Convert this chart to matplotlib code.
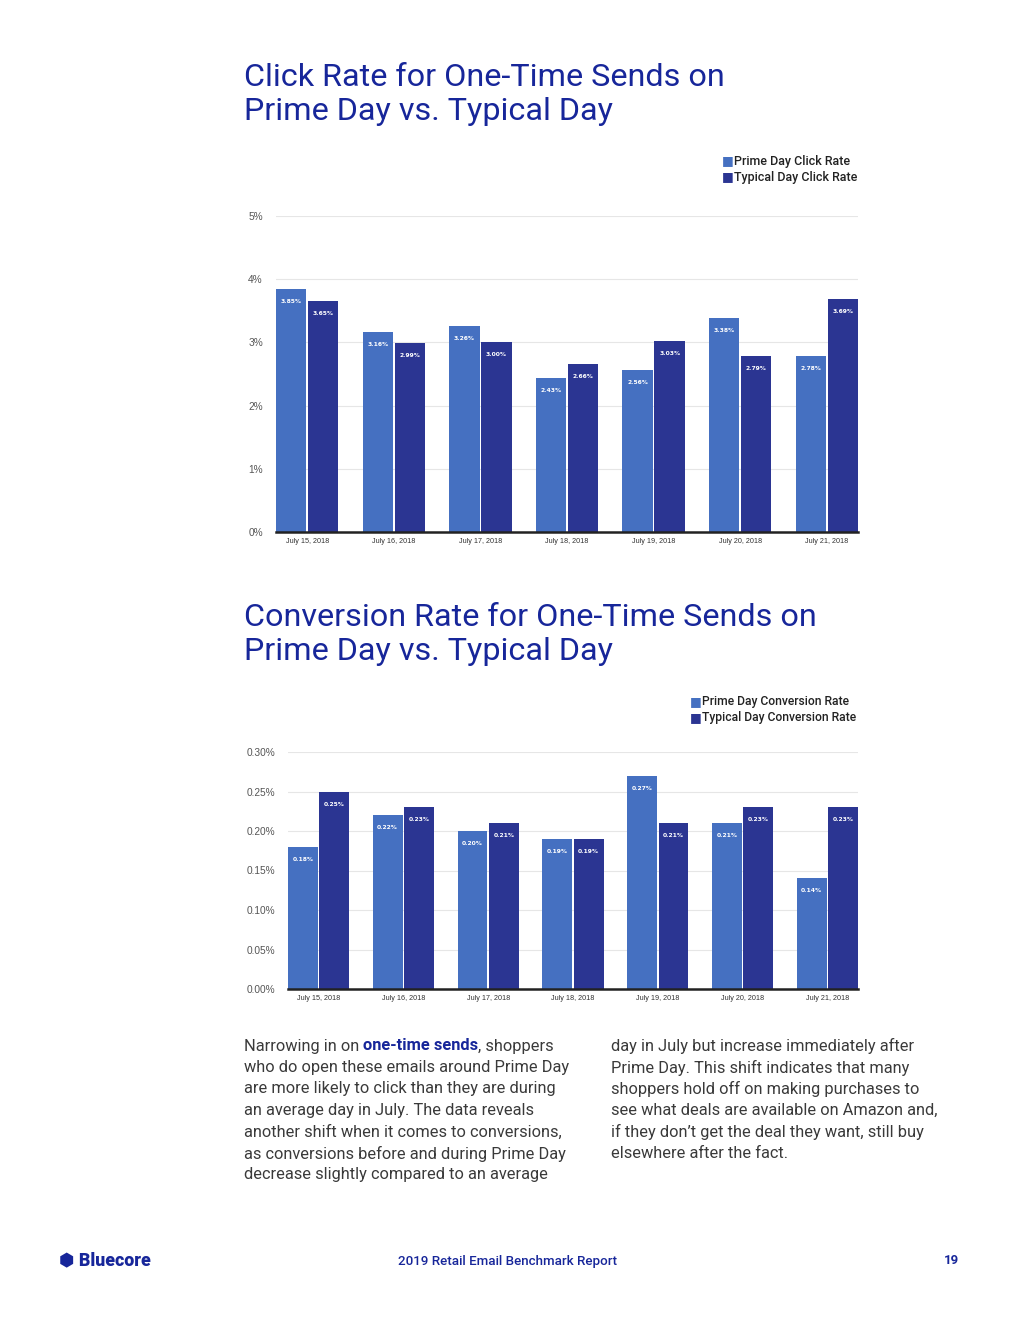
import matplotlib
matplotlib.use("Agg")
import matplotlib.pyplot as plt
import numpy as np

# data
dates = ["July 15, 2018", "July 16, 2018", "July 17, 2018", "July 18, 2018",
         "July 19, 2018", "July 20, 2018", "July 21, 2018"]
click_prime = [3.85, 3.16, 3.26, 2.43, 2.56, 3.38, 2.78]
click_typical = [3.65, 2.99, 3.00, 2.66, 3.03, 2.79, 3.69]
conv_prime = [0.18, 0.22, 0.20, 0.19, 0.27, 0.21, 0.14]
conv_typical = [0.25, 0.23, 0.21, 0.19, 0.21, 0.23, 0.23]
click_ticks = [0, 1, 2, 3, 4, 5]
conv_ticks = [0.00, 0.05, 0.10, 0.15, 0.20, 0.25, 0.30]

C_PRIME = "#4570c1"
C_TYP = "#2b3592"
C_TITLE = "#17269a"
C_TEXT = "#3a3a3a"
TFONT = ["Roboto", "DejaVu Sans"]

W, H = 1020, 1320
fig = plt.figure(figsize=(W / 100, H / 100), dpi=100)


def px(x, y):
    return x / W, 1 - y / H


def bar_chart(rect, prime, typical, ticks, fmt, lblfmt, ymax, tickpad, xfs):
    ax = fig.add_axes(rect)
    x = np.arange(len(prime))
    bw = 0.35
    b1 = ax.bar(x - bw / 2 - 0.01, prime, bw, color=C_PRIME, zorder=3)
    b2 = ax.bar(x + bw / 2 + 0.01, typical, bw, color=C_TYP, zorder=3)
    for bars, vals in ((b1, prime), (b2, typical)):
        for b, v in zip(bars, vals):
            ax.annotate(lblfmt.format(v), (b.get_x() + b.get_width() / 2, v),
                        xytext=(0, -9), textcoords="offset points",
                        ha="center", va="center", color="white",
                        fontsize=4.3, fontweight="bold", family="DejaVu Sans", zorder=4)
    ax.set_xlim(-0.36, len(prime) - 1 + 0.36)
    ax.set_ylim(0, ymax)
    ax.set_yticks(ticks)
    ax.set_yticklabels([fmt.format(t) for t in ticks], family="Liberation Sans",
                       fontsize=7.3, color="#555555", ha="left")
    ax.tick_params(axis="y", length=0, pad=tickpad)
    ax.set_xticks(x)
    ax.set_xticklabels(dates, fontsize=xfs, family="Liberation Sans", color="#333333")
    ax.tick_params(axis="x", length=0, pad=4)
    ax.grid(axis="y", color="#e6e6e6", lw=0.8, zorder=0)
    for s in ("top", "right", "left"):
        ax.spines[s].set_visible(False)
    ax.spines["bottom"].set_color("#222222")
    ax.spines["bottom"].set_linewidth(1.8)
    ax.spines["bottom"].set_zorder(5)
    return ax


# chart 1
l, b = px(276, 532)
r, t = px(858, 216)
bar_chart([l, b, r - l, t - b], click_prime, click_typical, click_ticks,
          "{:d}%", "{:.2f}%", 5.0, 20, 5.2)

# chart 2
l, b = px(288, 989)
r, t = px(858, 752)
bar_chart([l, b, r - l, t - b], conv_prime, conv_typical, conv_ticks,
          "{:.2f}%", "{:.2f}%", 0.30, 30, 5.2)

# titles
title_kw = dict(family=TFONT, fontsize=23.3, color=C_TITLE, va="center")
fig.text(*px(244, 77), "Click Rate for One-Time Sends on", **title_kw)
fig.text(*px(244, 112), "Prime Day vs. Typical Day", **title_kw)
fig.text(*px(244, 617), "Conversion Rate for One-Time Sends on", **title_kw)
fig.text(*px(244, 652), "Prime Day vs. Typical Day", **title_kw)


# legends
def legend(x, y, labels, fs):
    for i, (lab, c) in enumerate(zip(labels, (C_PRIME, C_TYP))):
        xx, yy = px(x, y + 16 * i)
        fig.text(xx, yy, "\u25A0", color=c, fontsize=9, va="center", family="DejaVu Sans")
        fig.text(xx + 12 / W, yy, lab, color="#222222", fontsize=fs, va="center",
                 family=TFONT, fontweight="medium")


legend(722, 161, ["Prime Day Click Rate", "Typical Day Click Rate"], 9.0)
legend(690, 702, ["Prime Day Conversion Rate", "Typical Day Conversion Rate"], 8.7)

# body text
left_lines = [
    None,
    "who do open these emails around Prime Day",
    "are more likely to click than they are during",
    "an average day in July. The data reveals",
    "another shift when it comes to conversions,",
    "as conversions before and during Prime Day",
    "decrease slightly compared to an average",
]
right_lines = [
    "day in July but increase immediately after",
    "Prime Day. This shift indicates that many",
    "shoppers hold off on making purchases to",
    "see what deals are available on Amazon and,",
    "if they don\u2019t get the deal they want, still buy",
    "elsewhere after the fact.",
]
body_kw = dict(family=TFONT, fontsize=11.8, color=C_TEXT, va="center")
for i, ln in enumerate(left_lines):
    if ln is None:
        continue
    fig.text(*px(244, 1046 + 21.5 * i), ln, **body_kw)
for i, ln in enumerate(right_lines):
    fig.text(*px(611, 1046 + 21.5 * i), ln, **body_kw)

# first line with bold part
renderer = fig.canvas.get_renderer()
xcur = 244
for piece, bold in (("Narrowing in on ", False), ("one-time sends", True), (", shoppers", False)):
    kw = dict(body_kw)
    if bold:
        kw.update(fontweight="bold", color=C_TITLE)
    tx = fig.text(*px(xcur, 1046), piece, **kw)
    xcur = tx.get_window_extent(renderer).x1

# footer
fig.text(*px(59, 1260), "\u2B22 Bluecore", family=TFONT, fontsize=12.8, fontweight="black",
         color=C_TITLE, va="center")
fig.text(*px(508, 1261), "2019 Retail Email Benchmark Report", family=TFONT, fontsize=9.6,
         color=C_TITLE, va="center", ha="center", fontweight="medium")
fig.text(*px(959, 1261), "19", family=TFONT, fontsize=9.5, fontweight="bold",
         color=C_TITLE, va="center", ha="right")

fig.savefig("out.png", dpi=100)
